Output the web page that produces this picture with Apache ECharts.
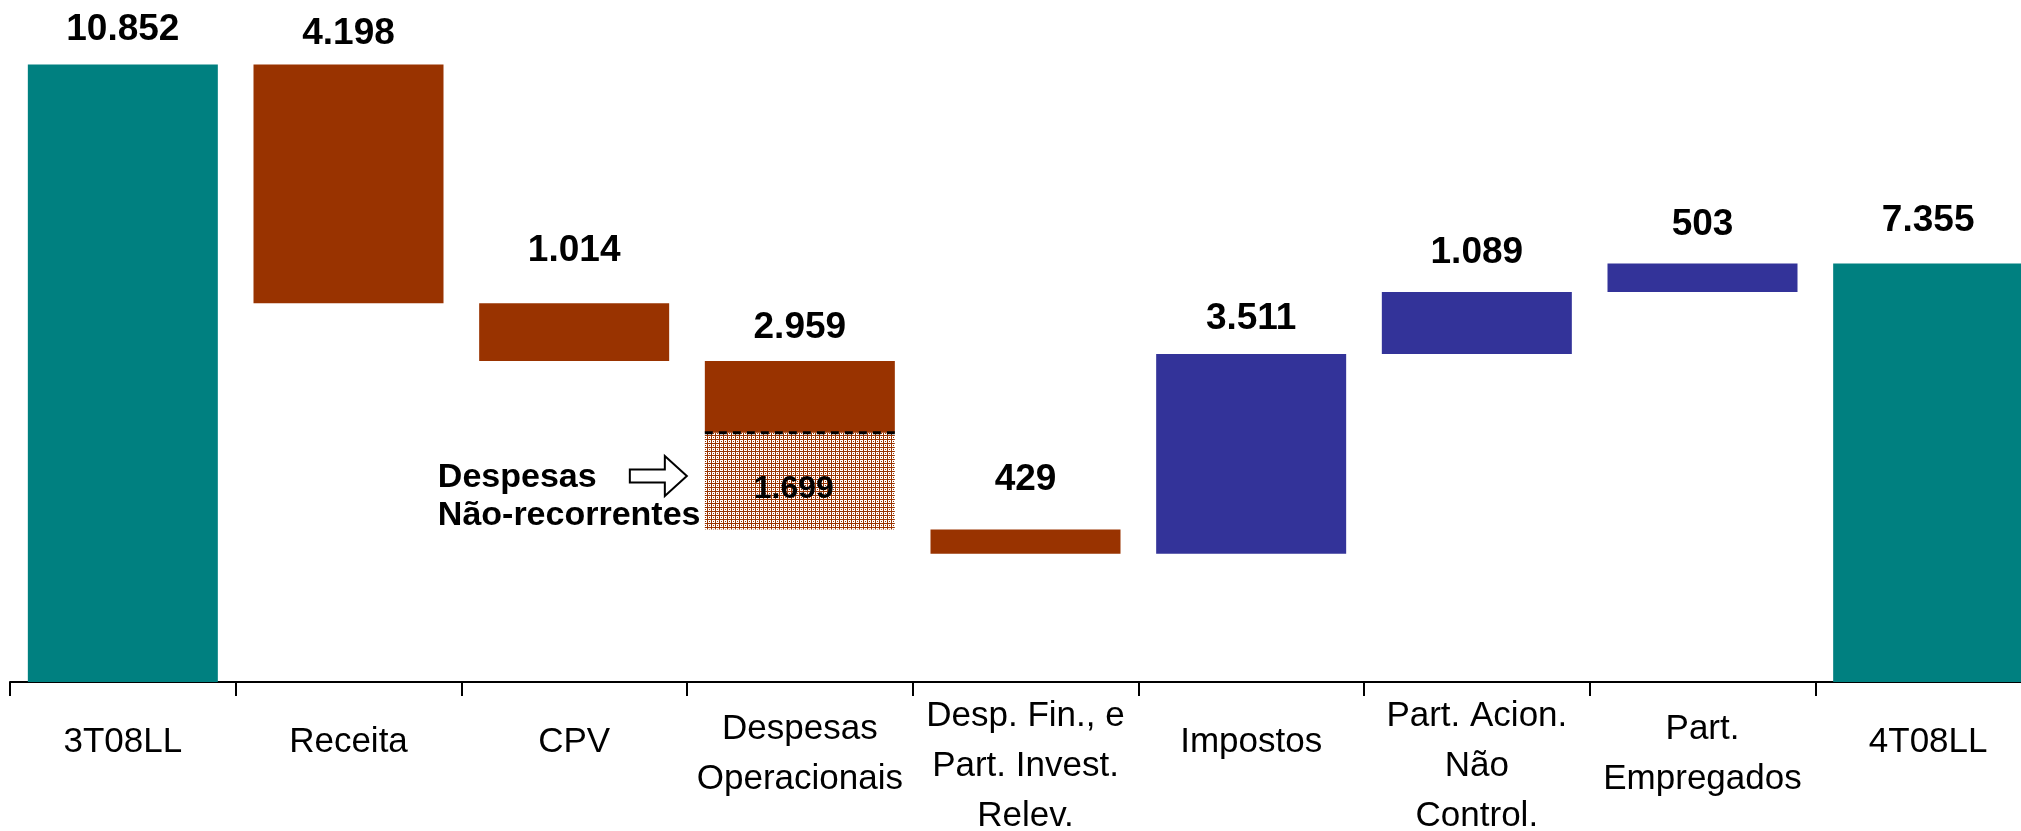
<!DOCTYPE html>
<html>
<head>
<meta charset="utf-8">
<script src="https://cdn.jsdelivr.net/npm/echarts@6/dist/echarts.min.js"></script>
<style>
  html, body { margin: 0; padding: 0; background: #ffffff; }
  #chart { width: 2021px; height: 831px; }
</style>
</head>
<body>
<div id="chart"></div>
<script>
// Lucro líquido 3T08 -> 4T08 (bridge)
const categories = [
  '3T08LL',
  'Receita',
  'CPV',
  'Despesas\nOperacionais',
  'Desp. Fin., e\nPart. Invest.\nRelev.',
  'Impostos',
  'Part. Acion.\nNão\nControl.',
  'Part.\nEmpregados',
  '4T08LL'
];
const kinds = ['total', 'delta', 'delta', 'delta', 'delta', 'delta', 'delta', 'delta', 'total'];
const values = [10852, -4198, -1014, -2959, -429, 3511, 1089, 503, 7355];
// portion of each step that is non-recurring (hatched)
const naoRecorrentes = [0, 0, 0, 1699, 0, 0, 0, 0, 0];
const annotationText = 'Despesas\nNão-recorrentes';

// ---- styling ----
const TEAL = '#008080', BROWN = '#993300', BLUE = '#333399';
const BAR_W = 190;
const FONT = '"Liberation Sans", Arial, sans-serif';
const labelDistance = [16, 12, 34, 15, 31, 17, 21, 20, 24];

// category labels use a condensed face when one is installed
function hasFont(name) {
  const g = document.createElement('canvas').getContext('2d');
  g.font = '40px monospace';
  const w0 = g.measureText('Operacionais').width;
  g.font = '40px "' + name + '", monospace';
  return g.measureText('Operacionais').width !== w0;
}
const narrow = hasFont('Liberation Sans Narrow');
const AXIS_FONT = narrow ? '"Liberation Sans Narrow", "Liberation Sans", sans-serif' : FONT;
const AXIS_SIZE = narrow ? 42 : 35;

const fmt = n => String(Math.abs(n)).replace(/\B(?=(\d{3})+(?!\d))/g, '.');

// running totals -> invisible base + visible segments
const base = [], hatch = [], body = [], colors = [];
let running = 0;
values.forEach((v, i) => {
  if (kinds[i] === 'total') {
    base.push(0); hatch.push('-'); body.push(v); colors.push(TEAL);
    running = v;
  } else {
    const lo = v < 0 ? running + v : running;
    const nr = naoRecorrentes[i] || 0;
    base.push(lo);
    hatch.push(nr > 0 ? nr : '-');
    body.push(Math.abs(v) - nr);
    colors.push(v < 0 ? BROWN : BLUE);
    running += v;
  }
});

// small check pattern used for the non-recurring share
function makePattern() {
  const c = document.createElement('canvas');
  c.width = 8; c.height = 8;
  const g = c.getContext('2d');
  g.fillStyle = BROWN; g.fillRect(0, 0, 8, 8);
  g.fillStyle = '#ffffff';
  for (let y = 0; y < 8; y++) {
    for (let x = 0; x < 8; x++) {
      const inCell = x % 4 !== 3 && y % 4 !== 3;
      const dot = x % 4 === 1 && y % 4 === 1;
      if (inCell && !dot) g.fillRect(x, y, 1, 1);
    }
  }
  return c;
}

const lineCount = s => s.split('\n').length;
const axisData = categories.map(c => ({
  value: c,
  textStyle: { padding: [(3 - lineCount(c)) * 13, 0, 0, 0] }
}));

const chart = echarts.init(document.getElementById('chart'), null, { renderer: 'canvas' });

chart.setOption({
  animation: false,
  backgroundColor: '#ffffff',
  grid: {
    left: 10, top: 56, width: 2031, height: 626,
    containLabel: false, outerBoundsMode: 'none'
  },
  xAxis: {
    type: 'category',
    data: axisData,
    axisLine: { lineStyle: { color: '#000', width: 2 } },
    axisTick: { show: true, length: 14, interval: 0, lineStyle: { color: '#000', width: 2 } },
    axisLabel: {
      interval: 0, margin: 9, color: '#000',
      fontFamily: AXIS_FONT, fontSize: AXIS_SIZE, lineHeight: 50, verticalAlign: 'top'
    },
    splitLine: { show: false }
  },
  yAxis: { type: 'value', min: 0, max: 11000, show: false, splitLine: { show: false } },
  series: [
    {
      name: 'base', type: 'bar', stack: 'w', barWidth: BAR_W, silent: true,
      itemStyle: { color: 'rgba(0,0,0,0)' },
      data: base
    },
    {
      name: 'naoRecorrentes', type: 'bar', stack: 'w', barWidth: BAR_W,
      itemStyle: { color: { image: makePattern(), repeat: 'repeat' } },
      label: {
        show: true, position: 'inside', offset: [-6, 8], color: '#000',
        fontFamily: FONT, fontWeight: 'bold', fontSize: 32,
        formatter: p => fmt(p.value)
      },
      data: hatch
    },
    {
      name: 'variacao', type: 'bar', stack: 'w', barWidth: BAR_W,
      label: {
        show: true, position: 'top', color: '#000',
        fontFamily: FONT, fontWeight: 'bold', fontSize: 37,
        formatter: p => fmt(values[p.dataIndex])
      },
      data: body.map((v, i) => ({
        value: v,
        itemStyle: { color: colors[i] },
        label: { distance: labelDistance[i] }
      }))
    },
    {
      name: 'divisa', type: 'custom', z: 5,
      encode: { x: 0, y: 1 },
      data: values.map((v, i) => naoRecorrentes[i] > 0 ? [i, base[i] + naoRecorrentes[i]] : null).filter(Boolean),
      renderItem: (params, api) => {
        const c = api.coord([api.value(0), api.value(1)]);
        return {
          type: 'line',
          shape: { x1: c[0] - BAR_W / 2, y1: c[1], x2: c[0] + BAR_W / 2, y2: c[1] },
          style: { stroke: '#000', lineWidth: 3, lineDash: [8, 6] }
        };
      }
    }
  ]
});

// callout next to the non-recurring block
const idx = naoRecorrentes.findIndex(v => v > 0);
const mid = chart.convertToPixel({ gridIndex: 0 }, [idx, base[idx] + naoRecorrentes[idx] / 2]);
const barLeft = mid[0] - BAR_W / 2;
const tipX = barLeft - 18, ay = mid[1] - 5;
chart.setOption({
  graphic: [
    {
      type: 'polygon', z: 10,
      shape: {
        points: [
          [tipX - 57, ay - 6.5], [tipX - 22, ay - 6.5], [tipX - 22, ay - 20],
          [tipX, ay], [tipX - 22, ay + 20], [tipX - 22, ay + 6.5], [tipX - 57, ay + 6.5]
        ]
      },
      style: { fill: '#ffffff', stroke: '#000', lineWidth: 2 }
    },
    {
      type: 'text', z: 10,
      x: barLeft - 267, y: ay - 17,
      style: {
        text: annotationText, fill: '#000',
        font: 'bold 34px ' + FONT, lineHeight: 38,
        align: 'left', verticalAlign: 'top'
      }
    }
  ]
});
</script>
</body>
</html>
